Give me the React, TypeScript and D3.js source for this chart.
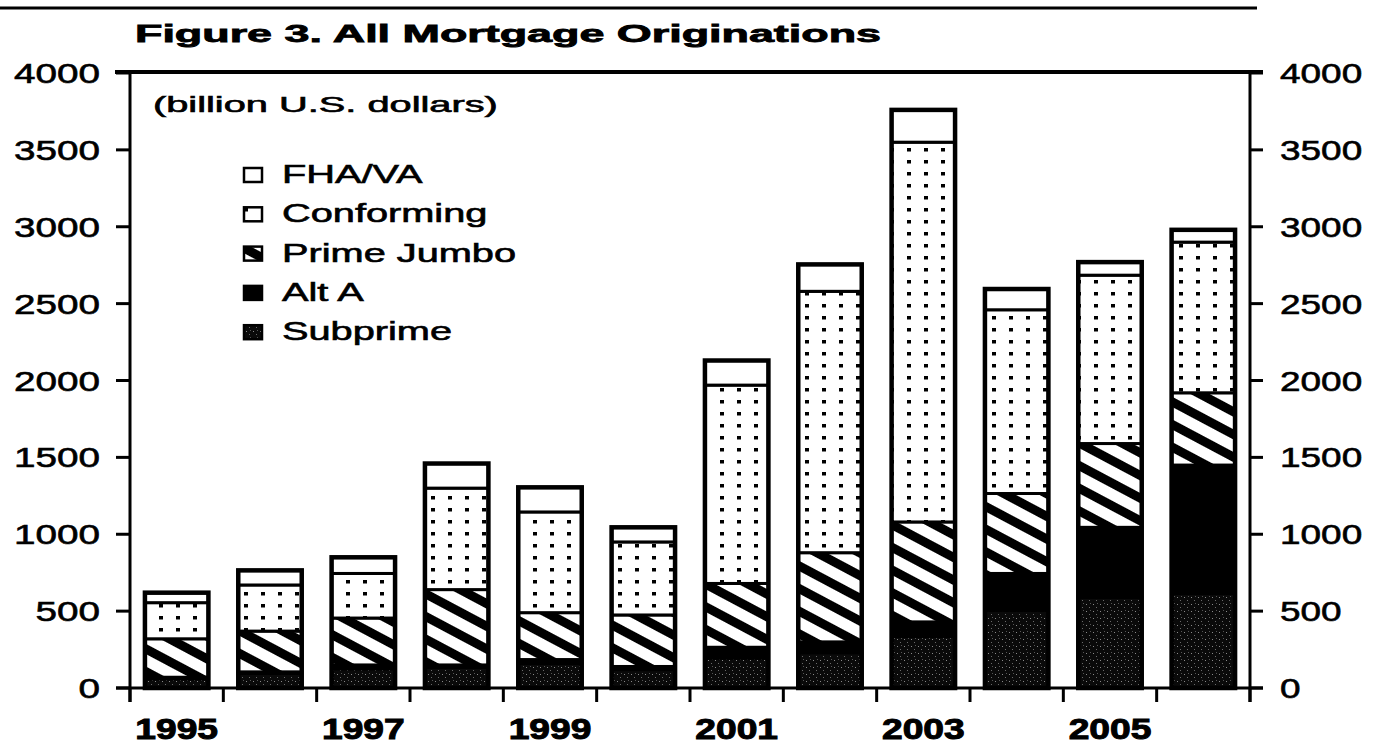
import React from 'react';
import * as d3 from 'd3';

const years = ['1995','1996','1997','1998','1999','2000','2001','2002','2003','2004','2005','2006'];
const subprime = [60,95,125,135,160,120,195,230,335,505,590,615];
const altA = [10,10,25,15,25,20,70,70,95,240,455,835];
const primeJumbo = [250,265,305,490,305,335,415,580,650,520,545,470];
const conforming = [235,300,290,660,655,475,1290,1700,2470,1195,1095,980];
const fhaVa = [65,95,105,160,160,95,160,175,210,135,85,80];
const yTicks = [0,500,1000,1500,2000,2500,3000,3500,4000];
const xLabels = ['1995','1997','1999','2001','2003','2005'];
const legendNames = ['FHA/VA','Conforming','Prime Jumbo','Alt A','Subprime'];
const legendKeys = ['fha','conf','jumbo','alta','sub'];
const title = 'Figure 3. All Mortgage Originations';
const unitLabel = '(billion U.S. dollars)';

const FONT = '"Liberation Sans", Arial, sans-serif';
const fills: Record<string,string> = {
  sub: 'url(#speck)', alta: '#000', jumbo: 'url(#hatch)', conf: 'url(#dots)', fha: '#fff',
};

function SText({x, y, sx, anchor = 'start', size, weight = 'normal', stroke = 0, children}: any) {
  return (
    <text transform={`translate(${x},${y}) scale(${sx},1)`} textAnchor={anchor}
      fontSize={size} fontFamily={FONT} fontWeight={weight} fill="#000"
      stroke={stroke ? '#000' : 'none'} strokeWidth={stroke}>{children}</text>
  );
}

export default function App() {
  const W = 1383, H = 745;
  const x = d3.scaleBand<string>().domain(years).range([130, 1250]).paddingInner(0.32).paddingOuter(0.16);
  const y = d3.scaleLinear().domain([0, 4000]).range([688, 73]);
  const rows = years.map((yr, i) => ({
    year: yr, sub: subprime[i], alta: altA[i], jumbo: primeJumbo[i], conf: conforming[i], fha: fhaVa[i],
  }));
  const keys = ['sub','alta','jumbo','conf','fha'];
  const stack = d3.stack<any>().keys(keys)(rows);
  const step = x.step();
  const boundaries = d3.range(years.length + 1).map(i => 130 + i * step);

  return (
    <svg width={W} height={H} style={{position: 'absolute', left: 0, top: 0, background: '#fff'}}>
      <defs>
        <pattern id="dots" width={17} height={12} patternUnits="userSpaceOnUse">
          <rect width={17} height={12} fill="#fff" />
          <rect x={6} y={4} width={4} height={3.5} fill="#000" />
        </pattern>
        <pattern id="hatch" width={20} height={20} patternUnits="userSpaceOnUse" patternTransform="rotate(28)">
          <rect width={20} height={20} fill="#fff" />
          <rect width={20} height={9} fill="#000" />
        </pattern>
        <pattern id="speck" width={7} height={7} patternUnits="userSpaceOnUse">
          <rect width={7} height={7} fill="#0a0a0a" />
          <rect x={1} y={2} width={1} height={1} fill="#8a8a8a" />
          <rect x={4} y={5} width={1} height={1} fill="#6a6a6a" />
          <rect x={5} y={1} width={1} height={1} fill="#555" />
        </pattern>
      </defs>
      <rect width={W} height={H} fill="#fff" />

      {/* page rule */}
      <line x1={0} x2={1257} y1={8} y2={8} stroke="#000" strokeWidth={3} />

      <SText x={135} y={42} sx={1.87} size={24} weight="bold" stroke={0.8}>{title}</SText>
      <SText x={153} y={112} sx={1.85} size={21.5} weight="normal" stroke={0.6}>{unitLabel}</SText>

      {/* bars */}
      {stack.map(layer => (
        <g key={layer.key}>
          {layer.map((d, i) => (
            <rect key={i} x={x(years[i])} width={x.bandwidth()} y={y(d[1])} height={y(d[0]) - y(d[1])}
              fill={fills[layer.key as string]} stroke="#000" strokeWidth={3} />
          ))}
        </g>
      ))}
      {rows.map((r) => {
        const tot = r.sub + r.alta + r.jumbo + r.conf + r.fha;
        return <rect key={r.year} x={x(r.year)} width={x.bandwidth()} y={y(tot)} height={y(0) - y(tot)}
          fill="none" stroke="#000" strokeWidth={4.5} />;
      })}

      {/* axes */}
      <line x1={115} x2={1263} y1={72} y2={72} stroke="#000" strokeWidth={4} />
      <line x1={116} x2={1263} y1={688} y2={688} stroke="#000" strokeWidth={3} />
      <line x1={130} x2={130} y1={72} y2={702} stroke="#000" strokeWidth={3} />
      <line x1={1250} x2={1250} y1={72} y2={702} stroke="#000" strokeWidth={3} />
      {yTicks.map(t => (
        <g key={t}>
          <line x1={116} x2={130} y1={y(t)} y2={y(t)} stroke="#000" strokeWidth={3} />
          <line x1={1250} x2={1263} y1={y(t)} y2={y(t)} stroke="#000" strokeWidth={3} />
          <SText x={100} y={y(t) + 10} sx={1.38} size={28} anchor="end" stroke={0.6}>{String(t)}</SText>
          <SText x={1280} y={y(t) + 10} sx={1.32} size={28} anchor="start" stroke={0.6}>{String(t)}</SText>
        </g>
      ))}
      {boundaries.map((bx, i) => (
        <line key={i} x1={bx} x2={bx} y1={688} y2={702} stroke="#000" strokeWidth={3} />
      ))}
      {xLabels.map(l => (
        <SText key={l} x={(x(l) as number) + x.bandwidth() / 2} y={739} sx={1.24} size={30} anchor="middle" weight="bold" stroke={1}>{l}</SText>
      ))}

      {/* legend */}
      {legendNames.map((n, i) => {
        const by = 183 + i * 39.3;
        return (
          <g key={n}>
            <rect x={244} y={by - 15} width={18} height={14} fill={fills[legendKeys[i]]} stroke="#000" strokeWidth={2.5} />
            <SText x={282} y={by} sx={1.59} size={25} stroke={0.6}>{n}</SText>
          </g>
        );
      })}
    </svg>
  );
}
